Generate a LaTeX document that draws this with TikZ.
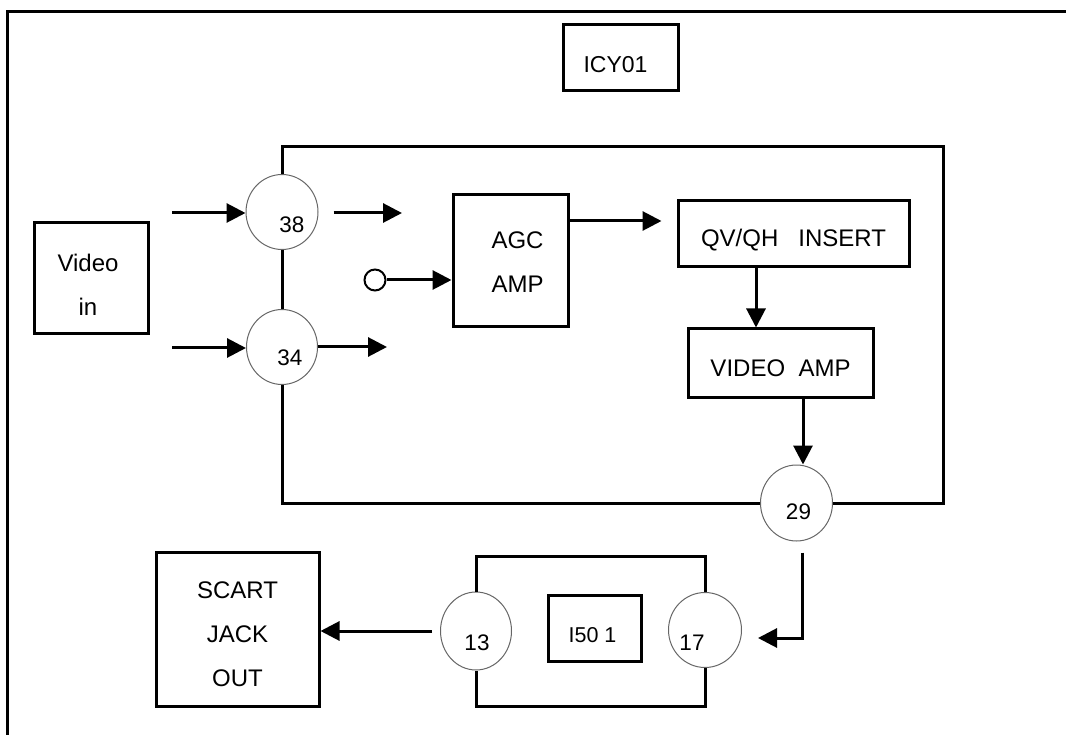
\documentclass[tikz,border=0pt]{standalone}
\usepackage{fontspec}
\setmainfont{Liberation Sans}
\usetikzlibrary{arrows.meta,shapes.geometric}
\begin{document}
\begin{tikzpicture}[x=1pt,y=-1pt,
  wire/.style={line width=3pt},
  arr/.style={wire,-{Triangle[length=19pt,width=19pt]}},
  box/.style={draw,rectangle,line width=3pt,inner sep=0pt},
  pinc/.style={draw=black!60,ellipse,line width=1pt,inner sep=0pt},
  lbl/.style={font=\fontsize{24}{44}\selectfont,align=center,inner sep=0pt},
  num/.style={font=\fontsize{22.5}{26}\selectfont,inner sep=0pt},
]
\useasboundingbox (0,0) rectangle (1066,735);

% outer frame (open)
\draw[wire] (7,736) -- (7,12) -- (1067,12);

% boxes
\node[box,minimum width=115pt,minimum height=66pt] (icy) at (620.5,58) {};
\node[lbl,font=\fontsize{23}{27}\selectfont] (icyt) at ([shift={(-5,7)}]icy.center) {ICY01};

\node[box,minimum width=114pt,minimum height=111pt] (vin) at (91,278.5) {};
\node[lbl] (vint) at ([shift={(-3,6)}]vin.center) {Video\\in};

\node[box,minimum width=115pt,minimum height=132pt] (agc) at (510.5,261) {};
\node[lbl] (agct) at ([shift={(7,1)}]agc.center) {AGC\\AMP};

\node[box,minimum width=231pt,minimum height=66pt] (qv) at (793.5,234) {};
\node[lbl] (qvt) at ([shift={(0,6)}]qv.center) {QV/QH\ \ \ INSERT};

\node[box,minimum width=185pt,minimum height=68pt] (vamp) at (780.5,363) {};
\node[lbl] (vampt) at ([shift={(0,5)}]vamp.center) {VIDEO\ \ AMP};

\node[box,minimum width=163pt,minimum height=154pt] (scart) at (237.5,629) {};
\node[lbl] (scartt) at ([shift={(0,5)}]scart.center) {SCART\\JACK\\OUT};

\node[box,minimum width=93pt,minimum height=66pt] (ic) at (594.5,628) {};
\node[num,font=\fontsize{21.5}{26}\selectfont] (ict) at ([shift={(-2,7)}]ic.center) {I50 1};

% pins
\node[pinc,minimum width=72pt,minimum height=75pt] (c38) at (282,212) {};
\node[num] (n38) at ([shift={(10,13)}]c38.center) {38};
\node[pinc,minimum width=71pt,minimum height=75pt] (c34) at (282,347) {};
\node[num] (n34) at ([shift={(8,11)}]c34.center) {34};
\node[pinc,minimum width=72pt,minimum height=76pt] (c29) at (796.5,503) {};
\node[num] (n29) at ([shift={(2,9)}]c29.center) {29};
\node[pinc,minimum width=71pt,minimum height=78pt] (c13) at (476,631) {};
\node[num] (n13) at ([shift={(1,12)}]c13.center) {13};
\node[pinc,minimum width=73pt,minimum height=75pt] (c17) at (705,630) {};
\node[num] (n17) at ([shift={(-13,13)}]c17.center) {17};

\node[draw,circle,line width=2pt,minimum size=21pt,inner sep=0pt] (sm) at (375,280) {};

% helper coordinates
\coordinate (in38) at (172,213);
\coordinate (in34) at (172,348);
\coordinate (out38) at (402,213);
\coordinate (out34) at (387,347);
\coordinate (ag) at (0,221);
\coordinate (qx) at (756,0);
\coordinate (vx) at (803,0);
\coordinate (tr) at (943,147);
\coordinate (k) at (802,638);
\coordinate (bt) at (594,556);
\coordinate (bb) at (594,706);

% connectors
\draw[arr] (in38) -- (in38 -| c38.west);
\draw[arr] (in34) -- (in34 -| c34.west);
\draw[arr,shorten <=15pt] (out38 -| c38.east) -- (out38);
\draw[arr] (c34.east) -- (out34);
\draw[arr] (sm.east) -- (sm -| agc.west);
\draw[arr,shorten >=15pt] (ag -| agc.east) -- (ag -| qv.west);
\draw[arr] (qv.south -| qx) -- (vamp.north -| qx);
\draw[arr] (vamp.south -| vx) -- (c29.north -| vx);
\draw[wire] (c38.north) -- (c38.north |- tr) -- (tr) -- (tr |- c29.east) -- (c29.east);
\draw[wire] (c38.south) -- (c34.north);
\draw[wire] (c34.south) -- (c34.south |- c29.west) -- (c29.west);
\draw[arr,shorten <=11pt,shorten >=16pt] (c29.south -| k) -- (k) -- (k -| c17.east);
\draw[arr,shorten <=8pt] (c13.west) -- (c13.west -| scart.east);
\draw[wire] (c13.north) |- (bt) -| (c17.north);
\draw[wire] (c13.south) |- (bb) -| (c17.south);
\end{tikzpicture}
\end{document}
